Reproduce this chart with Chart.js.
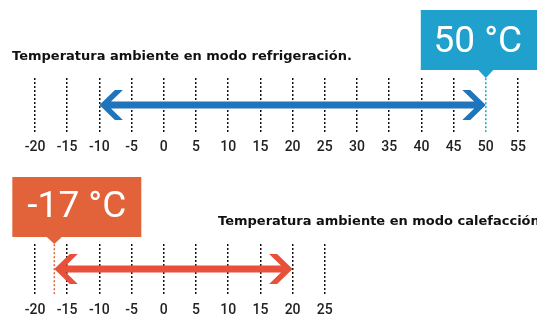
<!DOCTYPE html>
<html>
<head>
<meta charset="utf-8">
<script src="https://cdn.jsdelivr.net/npm/chart.js@4.4.1/dist/chart.umd.min.js"></script>
<style>
    body { margin: 0; background: #fff; width: 537px; height: 327px; overflow: hidden; }
    .box { position: relative; width: 537px; }
    #topBox { height: 163px; }
    #bottomBox { height: 164px; }
</style>
</head>
<body>
<div class="box" id="topBox"><canvas id="coolingChart"></canvas></div>
<div class="box" id="bottomBox"><canvas id="heatingChart"></canvas></div>
<script>
// Data
const coolingTicks = [-20, -15, -10, -5, 0, 5, 10, 15, 20, 25, 30, 35, 40, 45, 50, 55];
const heatingTicks = [-20, -15, -10, -5, 0, 5, 10, 15, 20, 25];
const coolingRange = [-10, 50];
const heatingRange = [-17, 20];
const coolingLimit = 50;
const heatingLimit = -17;
const coolingTitle = 'Temperatura ambiente en modo refrigeración.';
const heatingTitle = 'Temperatura ambiente en modo calefacción';
const axisMin = -20;
const axisMax = 55;

const BLUE_ARROW = '#1f75bc';
const BLUE_BOX = '#20a1cd';
const RED_ARROW = '#e8503a';
const RED_BOX = '#e2633a';

// Draws a double headed arrow between the first two points of dataset 0
const arrowPlugin = {
    id: 'arrow',
    afterDatasetsDraw(chart, args, opts) {
        const meta = chart.getDatasetMeta(0);
        const L = meta.data[0].x;
        const R = meta.data[1].x;
        const c = meta.data[0].y;
        const h = 3.5, hh = 15, outer = 15.5, inner = 23.5;
        const notch = inner - (hh - h) * outer / hh;
        const ctx = chart.ctx;
        ctx.save();
        ctx.fillStyle = opts.color;
        ctx.beginPath();
        ctx.moveTo(R, c);
        ctx.lineTo(R - outer, c - hh);
        ctx.lineTo(R - inner, c - hh);
        ctx.lineTo(R - notch, c - h);
        ctx.lineTo(L + notch, c - h);
        ctx.lineTo(L + inner, c - hh);
        ctx.lineTo(L + outer, c - hh);
        ctx.lineTo(L, c);
        ctx.lineTo(L + outer, c + hh);
        ctx.lineTo(L + inner, c + hh);
        ctx.lineTo(L + notch, c + h);
        ctx.lineTo(R - notch, c + h);
        ctx.lineTo(R - inner, c + hh);
        ctx.lineTo(R - outer, c + hh);
        ctx.closePath();
        ctx.fill();
        ctx.restore();
    }
};

// Callout box with a pointer at the limit value, plus the caption text
const calloutPlugin = {
    id: 'callout',
    afterDraw(chart, args, opts) {
        const ctx = chart.ctx;
        const px = chart.scales.x.getPixelForValue(opts.value);
        const left = px + opts.boxOffset;
        ctx.save();
        ctx.fillStyle = opts.color;
        ctx.fillRect(left, opts.boxTop, opts.boxWidth, opts.boxBottom - opts.boxTop);
        ctx.beginPath();
        ctx.moveTo(px - 7.5, opts.boxBottom);
        ctx.lineTo(px + 7.5, opts.boxBottom);
        ctx.lineTo(px, chart.chartArea.top);
        ctx.closePath();
        ctx.fill();

        ctx.fillStyle = '#fff';
        ctx.font = '400 37px Roboto';
        ctx.textAlign = 'center';
        ctx.textBaseline = 'alphabetic';
        ctx.fillText(opts.text, left + opts.boxWidth / 2 + opts.textShift, opts.textBaseline);

        ctx.fillStyle = '#111';
        ctx.font = 'bold 13px "DejaVu Sans"';
        ctx.textAlign = 'left';
        ctx.textBaseline = 'middle';
        ctx.fillText(opts.title, opts.titleX, opts.titleY);
        ctx.restore();
    }
};

function makeChart(id, ticks, range, limit, arrowColor, callout, padTop, tickPad) {
    return new Chart(document.getElementById(id), {
        type: 'line',
        data: {
            datasets: [{
                data: range.map(v => ({ x: v, y: 0.5 })),
                borderWidth: 0,
                pointRadius: 0,
            }, {
                data: [{ x: limit, y: 0 }, { x: limit, y: 1 }],
                borderColor: callout.color,
                borderWidth: 1.5,
                borderDash: [2, 2],
                pointRadius: 0,
            }]
        },
        options: {
            responsive: true,
            maintainAspectRatio: false,
            animation: false,
            events: [],
            layout: {
                padding: { top: padTop, left: 35, right: 19, bottom: 0 }
            },
            scales: {
                x: {
                    type: 'linear',
                    min: axisMin,
                    max: axisMax,
                    afterBuildTicks: scale => {
                        scale.ticks = ticks.map(v => ({ value: v }));
                    },
                    grid: {
                        drawTicks: false,
                        lineWidth: 1.5,
                        color: ctx => (ctx.tick && ctx.tick.value === limit) ? 'rgba(0,0,0,0)' : '#111',
                    },
                    border: { display: false, dash: [2, 2] },
                    ticks: {
                        padding: tickPad,
                        color: '#222',
                        font: { family: 'Roboto', size: 14, weight: '500' },
                        maxRotation: 0,
                        autoSkip: false,
                        callback: v => String(v),
                    }
                },
                y: {
                    display: false,
                    min: 0,
                    max: 1,
                }
            },
            plugins: {
                legend: { display: false },
                tooltip: { enabled: false },
                arrow: { color: arrowColor },
                callout: callout,
            }
        },
        plugins: [arrowPlugin, calloutPlugin],
    });
}

makeChart('coolingChart', coolingTicks, coolingRange, coolingLimit, BLUE_ARROW, {
    value: coolingLimit,
    text: '50 °C',
    color: BLUE_BOX,
    boxOffset: -65,
    boxWidth: 120,
    boxTop: 10,
    boxBottom: 70,
    textShift: -3,
    textBaseline: 52,
    title: coolingTitle,
    titleX: 12,
    titleY: 57,
}, 78, 7);

makeChart('heatingChart', heatingTicks, heatingRange, heatingLimit, RED_ARROW, {
    value: heatingLimit,
    text: '-17 °C',
    color: RED_BOX,
    boxOffset: -42,
    boxWidth: 129,
    boxTop: 14,
    boxBottom: 74,
    textShift: 0,
    textBaseline: 54,
    title: heatingTitle,
    titleX: 218,
    titleY: 59,
}, 81, 8);
</script>
</body>
</html>
